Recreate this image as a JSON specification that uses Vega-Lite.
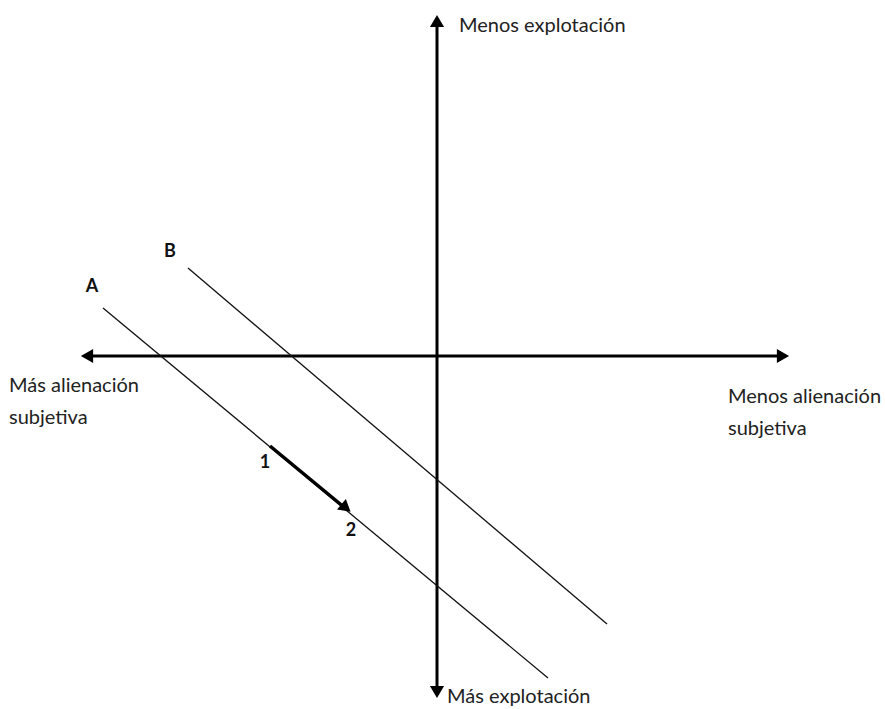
{
  "$schema": "https://vega.github.io/schema/vega-lite/v6.json",
  "width": 885,
  "height": 709,
  "padding": 0,
  "autosize": {"type": "fit", "contains": "padding"},
  "background": "white",
  "config": {"view": {"stroke": null}},
  "layer": [
    {
      "data": {"values": [
        {"name": "horizontal", "x": 84, "y": 356, "x2": 782, "y2": 356},
        {"name": "vertical", "x": 437, "y": 20, "x2": 437, "y2": 692}
      ]},
      "mark": {"type": "rule", "color": "#000", "strokeWidth": 3},
      "encoding": {
        "x": {"field": "x", "type": "quantitative", "scale": {"domain": [0, 885], "nice": false, "zero": false}, "axis": null},
        "y": {"field": "y", "type": "quantitative", "scale": {"domain": [0, 709], "reverse": true, "nice": false, "zero": false}, "axis": null},
        "x2": {"field": "x2"},
        "y2": {"field": "y2"}
      }
    },
    {
      "data": {"values": [
        {"name": "A", "x": 103, "y": 308, "x2": 548, "y2": 678},
        {"name": "B", "x": 188, "y": 268, "x2": 607, "y2": 624}
      ]},
      "mark": {"type": "rule", "color": "#111", "strokeWidth": 1.3},
      "encoding": {
        "x": {"field": "x", "type": "quantitative"},
        "y": {"field": "y", "type": "quantitative"},
        "x2": {"field": "x2"},
        "y2": {"field": "y2"}
      }
    },
    {
      "data": {"values": [
        {"name": "1-2", "x": 270, "y": 446, "x2": 345, "y2": 508}
      ]},
      "mark": {"type": "rule", "color": "#000", "strokeWidth": 3.5},
      "encoding": {
        "x": {"field": "x", "type": "quantitative"},
        "y": {"field": "y", "type": "quantitative"},
        "x2": {"field": "x2"},
        "y2": {"field": "y2"}
      }
    },
    {
      "data": {"values": [
        {"end": "left", "x": 87, "y": 356},
        {"end": "right", "x": 783, "y": 356},
        {"end": "up", "x": 437, "y": 21},
        {"end": "down", "x": 437, "y": 692}
      ]},
      "mark": {"type": "point", "filled": true, "color": "#000", "opacity": 1, "size": 200},
      "encoding": {
        "x": {"field": "x", "type": "quantitative"},
        "y": {"field": "y", "type": "quantitative"},
        "shape": {"field": "end", "type": "nominal", "legend": null, "scale": {"domain": ["left", "right", "up", "down"], "range": ["triangle-left", "triangle-right", "triangle-up", "triangle-down"]}}
      }
    },
    {
      "data": {"values": [
        {"end": "1-2 head", "x": 346, "y": 508}
      ]},
      "mark": {"type": "point", "filled": true, "color": "#000", "opacity": 1, "size": 190, "shape": "triangle-right", "angle": 40},
      "encoding": {
        "x": {"field": "x", "type": "quantitative"},
        "y": {"field": "y", "type": "quantitative"}
      }
    },
    {
      "data": {"values": [
        {"label": "A", "x": 92, "y": 287},
        {"label": "B", "x": 170, "y": 252},
        {"label": "1", "x": 265, "y": 463},
        {"label": "2", "x": 351, "y": 531}
      ]},
      "mark": {"type": "text", "font": "Lato", "fontSize": 18, "fontWeight": "bold", "color": "#111", "align": "center", "baseline": "middle"},
      "encoding": {
        "x": {"field": "x", "type": "quantitative"},
        "y": {"field": "y", "type": "quantitative"},
        "text": {"field": "label"}
      }
    },
    {
      "data": {"values": [
        {"label": "Menos explotación", "x": 459, "y": 26},
        {"label": "Más explotación", "x": 447, "y": 697},
        {"label": "Más alienación\nsubjetiva", "x": 9, "y": 386},
        {"label": "Menos alienación\nsubjetiva", "x": 728, "y": 397}
      ]},
      "mark": {"type": "text", "font": "Lato", "fontSize": 20, "color": "#222", "align": "left", "baseline": "middle", "lineBreak": "\n", "lineHeight": 32},
      "encoding": {
        "x": {"field": "x", "type": "quantitative"},
        "y": {"field": "y", "type": "quantitative"},
        "text": {"field": "label"}
      }
    }
  ]
}
